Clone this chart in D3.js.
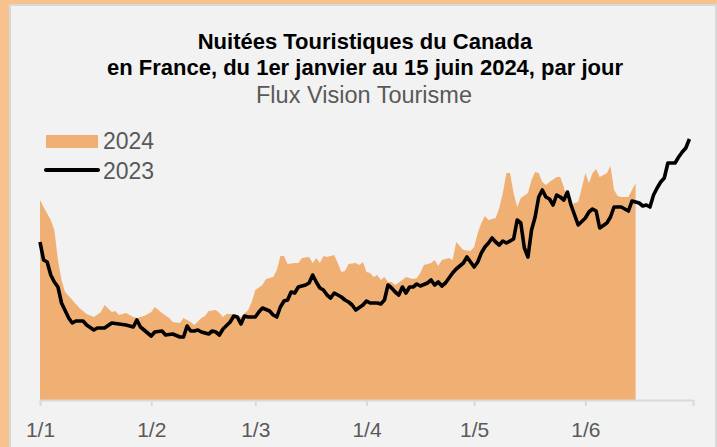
<!DOCTYPE html>
<html>
<head>
<meta charset="utf-8">
<script src="https://cdn.jsdelivr.net/npm/d3@7"></script>
<style>
  body { margin: 0; background: #F8C28E; }
  svg { display: block; font-family: "Liberation Sans", Arial, sans-serif; }
</style>
</head>
<body>
<div id="chart"></div>
<script>
// jours depuis le 1er janvier et valeurs (unité arbitraire)
const days2024 = [0,1,3,4,5,6,7,9,11,13,15,17,18,20,21,22,24,26,27,29,31,32,34,36,37,39,40,42,43,45,46,47,49,50,51,52,54,56,58,59,60,62,63,65,66,67,68,69,71,72,73,75,76,77,78,79,80,82,83,84,85,86,88,89,90,91,92,93,94,95,96,97,98,99,101,102,104,105,106,107,109,110,111,112,114,115,116,118,120,121,122,123,124,125,127,128,129,130,131,132,133,134,136,137,138,139,140,141,142,144,145,146,147,148,149,150,151,152,153,154,155,156,158,159,160,161,162,164,165,166];
const values2024 = [20.0,19.3,18.0,17.0,14.0,12.0,10.8,10.0,9.2,8.6,8.3,8.8,9.5,8.8,8.9,8.5,8.7,8.3,8.2,8.4,8.8,9.3,8.7,8.2,7.8,7.7,8.2,7.8,7.5,8.2,8.4,8.9,9.0,8.7,8.3,8.6,8.6,8.3,9.0,9.8,11.0,11.5,12.1,12.3,13.0,14.4,14.4,13.6,13.7,13.7,14.2,14.3,13.7,14.2,13.7,14.4,14.3,14.5,13.7,12.8,12.9,13.6,13.7,13.5,13.8,12.8,12.7,12.3,12.5,12.0,12.3,11.8,11.8,11.5,12.0,12.3,12.1,12.2,12.7,13.5,13.7,14.0,13.4,14.0,14.2,14.0,15.8,15.0,14.9,15.3,16.7,17.7,18.4,18.0,18.2,19.2,20.7,22.7,22.7,20.7,19.3,20.2,20.7,22.0,22.8,22.7,21.8,21.5,21.8,22.3,22.3,21.3,20.0,19.5,19.7,19.8,21.2,22.7,21.7,22.7,23.1,22.3,22.7,23.4,21.0,20.4,20.3,20.3,21.0,21.7];

const days2023 = [0,1,2,3,4,5,6,8,9,10,12,13,15,16,18,20,22,24,25,26,27,28,30,31,32,34,35,37,39,40,41,42,43,44,45,47,48,49,50,51,53,54,55,56,57,58,60,61,62,64,65,66,67,68,69,70,71,72,74,75,76,77,78,79,80,81,82,84,85,86,87,88,90,91,92,94,95,96,97,98,99,100,101,102,103,104,105,106,108,109,110,111,112,113,115,116,118,119,120,121,122,123,124,125,126,127,128,129,130,132,133,134,135,136,137,138,139,140,141,142,143,144,145,146,147,148,150,152,153,154,155,156,158,159,160,161,162,164,165,167,168,169,170,171,172,173,174,175,177,178,179,180,181];
const values2023 = [15.8,14.0,13.8,12.5,11.8,11.3,9.7,8.2,7.7,7.9,7.9,7.5,7.0,7.2,7.2,7.7,7.6,7.5,7.4,7.3,8.0,7.3,6.7,6.4,6.8,6.9,6.5,6.6,6.3,6.3,7.4,6.9,6.9,7.0,6.8,6.6,6.9,6.8,6.5,7.1,7.8,8.4,8.3,7.6,8.4,8.3,8.3,8.8,9.2,8.9,8.5,8.3,9.3,9.9,10.0,10.8,10.7,11.3,11.5,11.7,12.5,11.8,11.2,11.0,10.5,10.2,10.7,10.3,10.0,9.8,9.5,9.0,9.5,9.9,9.7,9.7,9.6,10.0,11.5,11.2,10.8,10.5,11.3,10.7,11.3,11.3,11.6,11.4,11.7,12.0,11.5,11.8,11.4,11.7,12.7,13.1,13.7,14.3,13.8,13.3,13.8,14.7,15.3,15.7,16.2,15.8,15.5,15.9,15.7,16.1,18.0,17.7,15.2,14.3,17.0,18.3,20.3,21.0,20.3,20.1,19.5,20.5,20.3,20.0,20.8,19.5,17.5,18.2,18.8,19.1,18.9,17.2,17.7,18.3,19.3,19.3,19.3,18.9,19.9,19.7,19.4,19.5,19.3,20.5,21.2,21.8,22.2,23.7,23.7,24.3,24.8,25.2,26.1];

const monthTicks = ["2024-01-01","2024-02-01","2024-03-01","2024-04-01","2024-05-01","2024-06-01","2024-07-01"];
const tickLabels = ["1/1","1/2","1/3","1/4","1/5","1/6",""];

const titleLines = ["Nuitées Touristiques du Canada", "en France, du 1er janvier au 15 juin 2024, par jour"];
const subtitle = "Flux Vision Tourisme";

const width = 717, height = 447;
const start = new Date(2024, 0, 1);
const toDate = d => d3.timeDay.offset(start, d);
const parse = d3.timeParse("%Y-%m-%d");

const svg = d3.select("#chart")
    .append("svg")
    .attr("width", width)
    .attr("height", height);

// cadre
svg.append("rect")
    .attr("x", 0).attr("y", 0)
    .attr("width", width).attr("height", height)
    .attr("fill", "#F8C28E");
svg.append("rect")
    .attr("x", 10).attr("y", 5)
    .attr("width", 706).attr("height", 460)
    .attr("fill", "#F2F2F2")
    .attr("stroke", "#D9D9D9")
    .attr("stroke-width", 2);

const x = d3.scaleTime()
    .domain([start, parse("2024-07-01")])
    .range([40, 693]);
const y = d3.scaleLinear()
    .domain([0, 30])
    .range([400, 100]);

const data2024 = days2024.map((d, i) => ({ date: toDate(d), value: values2024[i] }));
const data2023 = days2023.map((d, i) => ({ date: toDate(d), value: values2023[i] }));

svg.append("path")
    .datum(data2024)
    .attr("fill", "#F0B074")
    .attr("d", d3.area()
        .x(d => x(d.date))
        .y0(y(0))
        .y1(d => y(d.value)));

// axe
const axis = svg.append("g")
    .attr("transform", `translate(0,${y(0)})`)
    .call(d3.axisBottom(x)
        .tickValues(monthTicks.map(parse))
        .tickFormat((d, i) => tickLabels[i])
        .tickSize(6)
        .tickSizeOuter(0)
        .tickPadding(16));
axis.select(".domain").attr("stroke", "#D9D9D9").attr("stroke-width", 2);
axis.selectAll(".tick line").attr("stroke", "#D9D9D9").attr("stroke-width", 2);
axis.selectAll(".tick text")
    .attr("fill", "#595959")
    .attr("font-size", 21)
    .attr("font-family", "Liberation Sans, Arial, sans-serif");

svg.append("path")
    .datum(data2023)
    .attr("fill", "none")
    .attr("stroke", "#000")
    .attr("stroke-width", 3.6)
    .attr("stroke-linejoin", "round")
    .attr("d", d3.line()
        .x(d => x(d.date))
        .y(d => y(d.value)));

// titre
svg.selectAll(".title")
    .data(titleLines)
    .enter().append("text")
    .attr("class", "title")
    .attr("x", 365)
    .attr("y", (d, i) => 49 + i * 26)
    .attr("text-anchor", "middle")
    .attr("font-size", 22)
    .attr("font-weight", "bold")
    .attr("fill", "#000")
    .text(d => d);

svg.append("text")
    .attr("x", 364)
    .attr("y", 103)
    .attr("text-anchor", "middle")
    .attr("font-size", 23.5)
    .attr("fill", "#595959")
    .text(subtitle);

// légende
const legend = svg.append("g");
legend.append("rect")
    .attr("x", 46).attr("y", 135)
    .attr("width", 52).attr("height", 13)
    .attr("fill", "#F0B074");
legend.append("line")
    .attr("x1", 46).attr("x2", 98)
    .attr("y1", 170).attr("y2", 170)
    .attr("stroke", "#000")
    .attr("stroke-width", 4)
    .attr("stroke-linecap", "round");
legend.selectAll(".leg")
    .data(["2024", "2023"])
    .enter().append("text")
    .attr("x", 103)
    .attr("y", (d, i) => 149 + i * 30)
    .attr("font-size", 23)
    .attr("fill", "#595959")
    .text(d => d);
</script>
</body>
</html>
